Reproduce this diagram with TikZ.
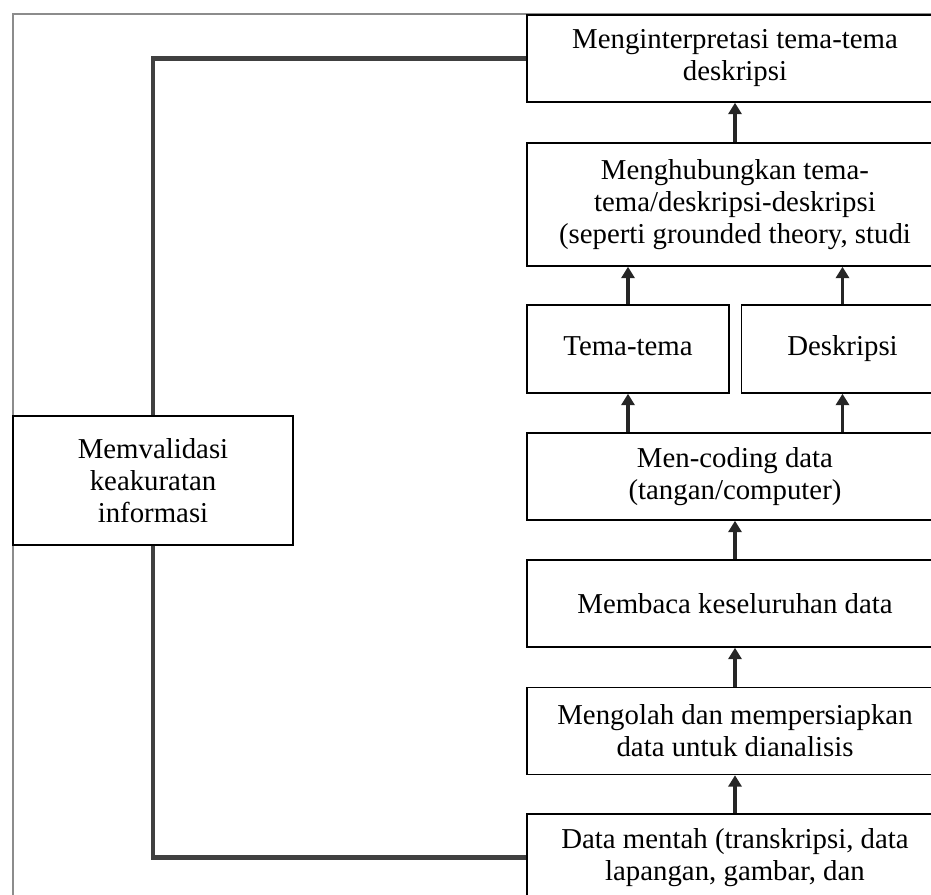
\documentclass[tikz,border=0pt]{standalone}
\usepackage{fontspec}
\setmainfont{Liberation Serif}
\usetikzlibrary{arrows.meta}

\tikzset{
	box/.style={draw=black, line width=0.9pt, fill=white, align=center,
		inner sep=2pt, minimum width=8.32cm, minimum height=1.74cm,
		font=\fontsize{16.4}{18.2}\selectfont},
	halfbox/.style={box, minimum width=4.04cm, minimum height=1.76cm,
		text height=2.1ex, text depth=0.6ex},
	sidebox/.style={box, minimum width=5.6cm, minimum height=2.58cm},
	link/.style={draw=black!75, line width=2.6pt},
	arr/.style={draw=black!85, line width=2.1pt, -{Triangle[width=7.5pt,length=6.5pt]}},
	frame/.style={draw=black!45, line width=0.8pt}
}

\begin{document}
\begin{tikzpicture}[x=0.02cm,y=-0.02cm]
\useasboundingbox (0,0) rectangle (931,895);
\clip (0,0) rectangle (931,895);
%Rahmen
\draw[frame] (13,895) |- (931,14);

%Kotak kanan
\node[box] (interp) at (735,58.5) {Menginterpretasi tema-tema\\deskripsi};
\node[box, minimum height=2.46cm] (hubung) at (735,204.5) {Menghubungkan tema-\\tema/deskripsi-deskripsi\\(seperti grounded theory, studi};
\node[halfbox] (tema) at (628,349) {Tema-tema};
\node[halfbox] (deskr) at (842.5,349) {Deskripsi};
\node[box] (coding) at (735,476.5) {Men-coding data\\(tangan/computer)};
\node[box] (baca) at (735,603.5) {Membaca keseluruhan data};
\node[box] (olah) at (735,731) {Mengolah dan mempersiapkan\\data untuk dianalisis};
\node[box] (mentah) at (735,857.5) {Data mentah (transkripsi, data\\lapangan, gambar, dan};

%Kotak kiri
\node[sidebox] (valid) at (153,480.5) {Memvalidasi\\keakuratan\\informasi};

%Garis
\draw[link] (interp.west) -| (valid.north);
\draw[link] (valid.south) |- (mentah.west);

\draw[arr] (hubung.north) -- (interp.south);
\draw[arr] (tema.north) -- (hubung.south -| tema.north);
\draw[arr] (deskr.north) -- (hubung.south -| deskr.north);
\draw[arr] (coding.north -| tema.south) -- (tema.south);
\draw[arr] (coding.north -| deskr.south) -- (deskr.south);
\draw[arr] (baca.north) -- (coding.south);
\draw[arr] (olah.north) -- (baca.south);
\draw[arr] (mentah.north) -- (olah.south);
\end{tikzpicture}
\end{document}
